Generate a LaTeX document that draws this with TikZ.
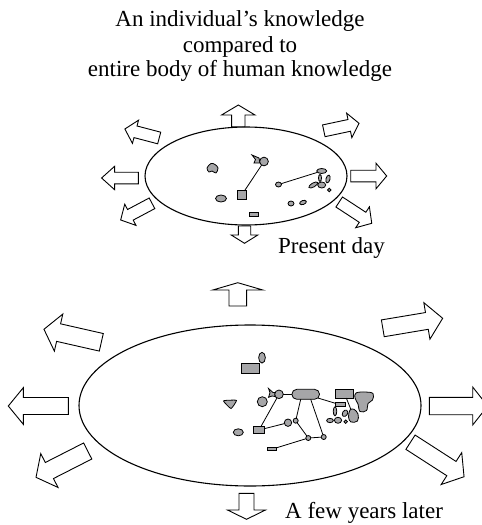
\documentclass[tikz,border=0pt]{standalone}
\usepackage{fontspec}
\setmainfont{Liberation Serif}
\usetikzlibrary{shapes.geometric,shapes.misc}
\definecolor{blobgray}{RGB}{166,166,168}
\tikzset{
  barrow/.style={draw=black, fill=white, line width=0.9pt, line join=miter},
  world/.style={draw=black, line width=1.1pt, ellipse, inner sep=0pt},
  kn/.style={draw=black, fill=blobgray, line width=0.8pt, inner sep=0pt, outer sep=0pt},
  kcirc/.style={kn, circle},
  kell/.style={kn, ellipse},
  krect/.style={kn, rectangle},
  kpill/.style={kn, rounded rectangle},
  link/.style={draw=black, line width=0.8pt},
  lbl/.style={font=\fontsize{23}{25}\selectfont, inner sep=0pt},
}
% tail x, tail y, angle, length, shaft half width, head half width, head length
\newcommand{\blockarrow}[7]{%
  \draw[barrow, shift={(#1,#2)}, rotate=#3] (0,-#5) -- ({#4-#7},-#5) -- ({#4-#7},-#6) -- (#4,0) -- ({#4-#7},#6) -- ({#4-#7},#5) -- (0,#5) -- cycle;}
\begin{document}
\begin{tikzpicture}[x=1pt,y=-1pt]
\useasboundingbox (0,0) rectangle (482,525);

% ---------- titles ----------
\node[lbl, anchor=base] (t1) at (240,26.7) {An individual’s knowledge};
\node[lbl, anchor=base] (t2) at (240,52.3) {compared to};
\node[lbl, anchor=base] (t3) at (240,76.5) {entire body of human knowledge};
\node[lbl, anchor=base west] (pd) at (278,253.3) {Present day};
\node[lbl, anchor=base west] (fy) at (285,518.3) {A few years later};

% ---------- present day ----------
\node[world, minimum width=202pt, minimum height=98pt] (present) at (246,176) {};
\blockarrow{238.3}{126.7}{90}{21.7}{6.7}{16.7}{10}
\blockarrow{244.5}{226}{-90}{17.3}{6.2}{13.3}{8.3}
\blockarrow{138.3}{178}{180}{36.7}{5.8}{11.7}{13}
\blockarrow{350.7}{176}{0}{36}{5.8}{12.8}{10.7}
\blockarrow{159.2}{138}{165.3}{35.5}{6}{12}{11}
\blockarrow{323.8}{130.8}{12}{36}{6}{12.5}{10}
\blockarrow{152}{203.3}{208}{35.5}{6}{12}{11}
\blockarrow{339.2}{202}{-33.2}{38.9}{6}{12.5}{11}

\draw[kn] plot[smooth cycle, tension=0.6] coordinates {(207,168) (211,163.5) (215,164.5) (218,168) (216,173) (212,171) (209,172)};
\draw[kn] (252,155) -- (259,158) -- (260,163) -- (254,163) -- (255.5,159.5) -- cycle;
\node[kcirc, minimum size=8.7pt] (Tc) at (264,161.5) {};
\node[krect, minimum width=9.3pt, minimum height=8.3pt] (Ts) at (241.7,195) {};
\node[kell, minimum width=11pt, minimum height=7pt] (Te) at (221,198.5) {};
\node[krect, minimum width=9pt, minimum height=4pt] (Tr) at (254.3,214) {};
\node[kell, minimum width=6pt, minimum height=5pt] (Td) at (278.5,184.5) {};
\node[kell, minimum width=3pt, minimum height=7pt] (Tk2) at (320,178) {};
\node[kell, minimum width=10pt, minimum height=5pt] (Tk1) at (321.7,171) {};
\node[kell, minimum width=10pt, minimum height=4pt, rotate=30] (Tk3) at (313.3,185) {};
\node[kell, minimum width=8pt, minimum height=6pt] (Tk4) at (321.7,185) {};
\node[kell, minimum width=4pt, minimum height=8pt, rotate=-15] (Tk5) at (328,179) {};
\node[kcirc, minimum size=3.5pt] (Tk6) at (329.3,190) {};
\node[kell, minimum width=6pt, minimum height=5pt] (Tf1) at (291,203.5) {};
\node[kell, minimum width=7pt, minimum height=4pt, rotate=20] (Tf2) at (303,202.5) {};
\draw[link] (Tc) -- (Ts);
\draw[link] (Td) -- (Tk1);

% ---------- a few years later ----------
\node[world, minimum width=342pt, minimum height=161pt] (later) at (250,405.5) {};
\blockarrow{237.8}{306}{90}{23.3}{8.8}{25}{7.3}
\blockarrow{246.5}{493.3}{-90}{26}{7.5}{19}{9.3}
\blockarrow{68.3}{406}{180}{60}{8.5}{18.3}{15}
\blockarrow{429.3}{406}{0}{58.4}{8.7}{19}{15}
\blockarrow{101.3}{342.3}{167.2}{58.8}{9}{19}{15}
\blockarrow{382.8}{328.3}{9.5}{60.7}{8.5}{18.5}{16}
\blockarrow{87.7}{451}{207}{58}{9}{19}{15}
\blockarrow{410.5}{442.2}{-32.8}{63.7}{8.5}{19}{15}

\node[kell, minimum width=6.7pt, minimum height=10.7pt] (B1) at (262,357.7) {};
\node[krect, minimum width=18pt, minimum height=10pt] (B2) at (250,368.3) {};
\draw[kn] plot[smooth cycle, tension=0.3] coordinates {(223.5,401) (230,400.2) (236.5,400.5) (231,408.5)};
\node[kcirc, minimum size=10pt] (B4) at (262.3,401.7) {};
\draw[kn] (268.5,388.5) -- (273,392.5) -- (275,392.5) -- (275,396.5) -- (272,396) -- (268.5,397.3) -- (270,392.7) -- cycle;
\node[kcirc, minimum size=8.6pt] (B6) at (279,394.3) {};
\node[kpill, minimum width=27.7pt, minimum height=10pt] (B7) at (305.7,394.3) {};
\node[krect, minimum width=18pt, minimum height=9pt] (B8) at (344.5,393.5) {};
\coordinate (B12) at (353.3,415.5);
\draw[link] (B8) -- (B12);
\draw[kn] plot[smooth cycle, tension=0.6] coordinates {(356,393) (365,392) (373,393.5) (372.5,400) (368,403.5) (366.5,410.5) (360,411.5) (358,404) (355,398)};
\node[krect, minimum width=10pt, minimum height=4pt] (B10) at (340,404.7) {};
\node[kell, minimum width=3.5pt, minimum height=9pt] (B11) at (335,411.3) {};
\draw[kn] plot[smooth cycle, tension=0.6] coordinates {(350,410) (354,409.3) (358,414) (357.5,421) (351,422) (348.5,417)};
\node[kell, minimum width=5pt, minimum height=7pt, rotate=-30] (B13) at (345,413.3) {};
\node[kell, minimum width=6.7pt, minimum height=4.3pt] (B14) at (330,420.5) {};
\node[kell, minimum width=7.3pt, minimum height=6pt] (B15) at (338,420.3) {};
\node[kcirc, minimum size=3.4pt] (B16) at (345.7,421.7) {};
\node[kell, minimum width=10pt, minimum height=7pt] (B17) at (238.3,432.3) {};
\node[krect, minimum width=11pt, minimum height=6.7pt] (B18) at (259,430) {};
\node[kcirc, minimum size=7.4pt] (B19) at (288,422.7) {};
\node[kcirc, minimum size=5pt] (B20) at (295.7,420.7) {};
\node[kcirc, minimum size=5pt] (B21) at (308.3,438) {};
\node[kcirc, minimum size=5pt] (B22) at (323.7,437) {};
\node[krect, minimum width=9pt, minimum height=3pt] (B23) at (271.7,449.3) {};

\draw[link] (B6) -- (B7);
\draw[link] (B7) -- (B10);
\draw[link] (B6) -- (B18);
\draw[link] (B18) -- (B19);
\draw[link] ([xshift=-5pt]B7.south) -- (B20);
\draw[link] (B20) -- (B21);
\draw[link] ([xshift=5pt]B7.south) -- (B22);
\draw[link] (B21) -- (B22);
\draw[link] (B21) -- (B23);
\end{tikzpicture}
\end{document}
